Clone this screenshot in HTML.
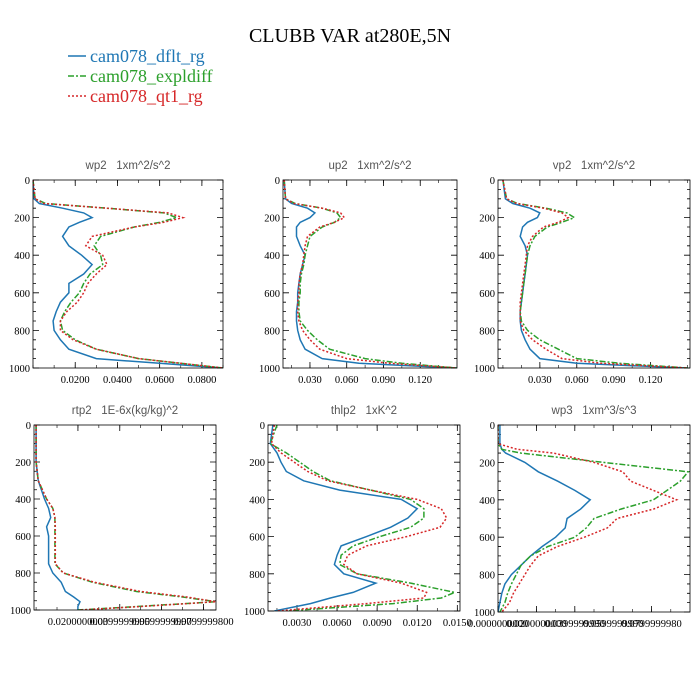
<!DOCTYPE html>
<html><head><meta charset="utf-8"><style>
body{margin:0;background:#fff}
svg{display:block}
</style></head><body>
<svg id="c" width="700" height="700" xmlns="http://www.w3.org/2000/svg">
<text x="350" y="42" text-anchor="middle" font-family="Liberation Serif, serif" font-size="20" fill="#000">CLUBB VAR at280E,5N</text>
<g font-family="Liberation Serif, serif" font-size="18">
<line x1="68" y1="56" x2="86" y2="56" stroke="#1f77b4" stroke-width="1.5"/>
<text x="90" y="62" fill="#1f77b4">cam078_dflt_rg</text>
<line x1="68" y1="76" x2="86" y2="76" stroke="#2ca02c" stroke-width="1.5" stroke-dasharray="6,2,2,2"/>
<text x="90" y="82" fill="#2ca02c">cam078_expldiff</text>
<line x1="68" y1="96" x2="86" y2="96" stroke="#d62728" stroke-width="1.5" stroke-dasharray="2,2"/>
<text x="90" y="102" fill="#d62728">cam078_qt1_rg</text>
</g>
</svg>
<script>
// ---- data ----
const wp2Levels=[0,100,125,150,175,200,225,250,300,350,400,450,500,550,600,650,700,750,800,850,900,950,975,1000];
const wp2Dflt=[0,0.0005,0.003,0.014,0.024,0.028,0.022,0.017,0.014,0.017,0.023,0.028,0.024,0.017,0.017,0.013,0.011,0.0095,0.010,0.013,0.017,0.030,0.060,0.090];
const wp2Expl=[0,0.001,0.006,0.035,0.062,0.068,0.060,0.048,0.032,0.029,0.032,0.033,0.027,0.024,0.022,0.018,0.015,0.013,0.014,0.020,0.030,0.050,0.070,0.090];
const wp2Qt1=[0,0.001,0.005,0.035,0.064,0.071,0.062,0.048,0.028,0.025,0.033,0.035,0.030,0.026,0.024,0.021,0.016,0.013,0.013,0.019,0.030,0.050,0.070,0.090];
const wp2Ticks=["0.0200","0.0400","0.0600","0.0800"];
const wp2TickVals=[0.02,0.04,0.06,0.08];

const up2Levels=wp2Levels;
const up2Dflt=[0.009,0.010,0.015,0.028,0.034,0.030,0.022,0.019,0.019,0.022,0.026,0.024,0.022,0.021,0.020,0.020,0.019,0.019,0.020,0.022,0.026,0.040,0.070,0.150];
const up2Expl=[0.009,0.010,0.018,0.040,0.052,0.055,0.050,0.040,0.030,0.028,0.026,0.025,0.023,0.022,0.022,0.021,0.021,0.022,0.028,0.036,0.046,0.075,0.105,0.150];
const up2Qt1=[0.009,0.010,0.017,0.040,0.055,0.058,0.050,0.038,0.028,0.026,0.025,0.024,0.022,0.021,0.021,0.020,0.020,0.021,0.024,0.030,0.038,0.060,0.095,0.150];
const up2Ticks=["0.030","0.060","0.090","0.120"];
const up2TickVals=[0.03,0.06,0.09,0.12];

const vp2Levels=wp2Levels;
const vp2Dflt=[0,0.002,0.008,0.022,0.030,0.028,0.020,0.016,0.014,0.018,0.020,0.019,0.018,0.017,0.016,0.015,0.014,0.014,0.015,0.018,0.022,0.030,0.060,0.150];
const vp2Expl=[0,0.003,0.012,0.035,0.052,0.058,0.048,0.036,0.026,0.022,0.020,0.019,0.018,0.017,0.016,0.015,0.014,0.015,0.020,0.030,0.045,0.060,0.095,0.150];
const vp2Qt1=[0,0.003,0.011,0.033,0.048,0.053,0.045,0.033,0.024,0.020,0.019,0.018,0.017,0.016,0.015,0.014,0.014,0.014,0.017,0.024,0.035,0.048,0.080,0.150];
const vp2Ticks=up2Ticks;
const vp2TickVals=up2TickVals;

const rtp2Levels=[0,200,300,400,450,500,550,600,650,700,750,800,850,900,930,955,980,1000];
const rtp2Dflt=[0,0,0.001,0.004,0.006,0.007,0.005,0.006,0.006,0.006,0.006,0.008,0.012,0.014,0.018,0.021,0.020,0.020];
const rtp2Expl=[0,0,0.001,0.005,0.008,0.009,0.009,0.009,0.009,0.009,0.009,0.013,0.027,0.048,0.070,0.086,0.050,0.020];
const rtp2Qt1=[0,0,0.001,0.005,0.008,0.009,0.0092,0.0092,0.0092,0.0092,0.0092,0.013,0.028,0.050,0.072,0.086,0.052,0.021];
const rtp2Ticks=["0.0200000000","0.0399999990","0.0599999990","0.0799999800"];
const rtp2TickVals=[0.02,0.04,0.06,0.08];

const thlp2Levels=[0,100,150,200,250,300,350,400,450,500,550,600,650,700,750,800,850,900,930,960,1000];
const thlp2Dflt=[0.0012,0.0010,0.0015,0.0018,0.0022,0.0035,0.0062,0.0108,0.0120,0.0113,0.0100,0.0082,0.0063,0.0060,0.0058,0.0065,0.0089,0.0072,0.0055,0.0040,0.0013];
const thlp2Expl=[0.0015,0.0010,0.0022,0.0032,0.0042,0.0055,0.0085,0.0115,0.0125,0.0125,0.0115,0.0092,0.0072,0.0063,0.0062,0.0075,0.0115,0.0148,0.0138,0.0102,0.0022];
const thlp2Qt1=[0.0013,0.0011,0.0018,0.0028,0.0038,0.0053,0.0085,0.0120,0.0138,0.0142,0.0137,0.0112,0.0082,0.0068,0.0065,0.0075,0.0108,0.0127,0.0125,0.0082,0.0015];
const thlp2Ticks=["0.0030","0.0060","0.0090","0.0120","0.0150"];
const thlp2TickVals=[0.003,0.006,0.009,0.012,0.015];

const wp3Levels=[0,100,130,150,200,250,300,350,400,450,500,550,600,650,700,750,800,850,900,950,1000];
const wp3Dflt=[0.001,0.001,0.002,0.004,0.014,0.021,0.031,0.040,0.048,0.043,0.036,0.035,0.030,0.023,0.017,0.012,0.007,0.0036,0.002,0.001,0];
const wp3Expl=[0,0,0.002,0.012,0.055,0.099,0.095,0.088,0.081,0.064,0.050,0.046,0.040,0.026,0.017,0.012,0.0095,0.007,0.005,0.0036,0.001];
const wp3Qt1=[0,0,0.010,0.029,0.050,0.065,0.069,0.081,0.093,0.081,0.062,0.057,0.045,0.031,0.021,0.017,0.014,0.011,0.008,0.006,0.002];
const wp3Ticks=["0.0000000000","0.0200000000","0.0399999990","0.0599999990","0.0799999980"];
const wp3TickVals=[0,0.02,0.04,0.06,0.08];

const yTicks=[0,200,400,600,800,1000];

const NS="http://www.w3.org/2000/svg";
const svg=document.getElementById('c');
function mk(tag,attrs,parent){const e=document.createElementNS(NS,tag);for(const k in attrs)e.setAttribute(k,attrs[k]);(parent||svg).appendChild(e);return e;}

const panels=[
 {key:'wp2',title:'wp2   1xm^2/s^2',x0:33,x1:223,y0:180,y1:368,xmin:0,xmax:0.09,lev:wp2Levels,s:[wp2Dflt,wp2Expl,wp2Qt1],tl:wp2Ticks,tv:wp2TickVals},
 {key:'up2',title:'up2   1xm^2/s^2',x0:283,x1:457,y0:180,y1:368,xmin:0.008,xmax:0.15,lev:up2Levels,s:[up2Dflt,up2Expl,up2Qt1],tl:up2Ticks,tv:up2TickVals},
 {key:'vp2',title:'vp2   1xm^2/s^2',x0:498,x1:690,y0:180,y1:368,xmin:-0.004,xmax:0.152,lev:vp2Levels,s:[vp2Dflt,vp2Expl,vp2Qt1],tl:vp2Ticks,tv:vp2TickVals},
 {key:'rtp2',title:'rtp2   1E-6x(kg/kg)^2',x0:34,x1:216,y0:425,y1:610,xmin:-0.001,xmax:0.086,lev:rtp2Levels,s:[rtp2Dflt,rtp2Expl,rtp2Qt1],tl:rtp2Ticks,tv:rtp2TickVals},
 {key:'thlp2',title:'thlp2   1xK^2',x0:268,x1:460,y0:425,y1:611,xmin:0.00083,xmax:0.0152,lev:thlp2Levels,s:[thlp2Dflt,thlp2Expl,thlp2Qt1],tl:thlp2Ticks,tv:thlp2TickVals},
 {key:'wp3',title:'wp3   1xm^3/s^3',x0:498,x1:690,y0:425,y1:612,xmin:0,xmax:0.1,lev:wp3Levels,s:[wp3Dflt,wp3Expl,wp3Qt1],tl:wp3Ticks,tv:wp3TickVals}
];
const colors=['#1f77b4','#2ca02c','#d62728'];
const dashes=['none','6,2,2,2','2,2'];
const sNames=['dflt','expldiff','qt1'];

panels.forEach(p=>{
 const g=mk('g',{});
 
 
 const xs=v=>p.x0+(v-p.xmin)/(p.xmax-p.xmin)*(p.x1-p.x0);
 const ys=v=>p.y0+v/1000*(p.y1-p.y0);
 const t=mk('text',{x:(p.x0+p.x1)/2,y:p.y0-11,'text-anchor':'middle','font-family':'Liberation Sans, sans-serif','font-size':'11.5',fill:'#555',style:'white-space:pre'},g);
 t.textContent=p.title;
 
 
 const cp=mk('clipPath',{id:'cl-'+p.key},g);
 mk('rect',{x:p.x0,y:p.y0,width:p.x1-p.x0,height:p.y1-p.y0},cp);
 for(let v=0;v<=1000;v+=50){
  const major=v%200===0;const L=major?6:3;const y=ys(v);
  const a=mk('path',{d:`M${p.x0},${y}h${L}M${p.x1},${y}h${-L}`,stroke:'#000','stroke-width':0.8},g);
  
  
 }
 yTicks.forEach(v=>{
  const tx=mk('text',{x:p.x0-3,y:ys(v)+4,'text-anchor':'end','font-family':'Liberation Serif, serif','font-size':'10.5',fill:'#000'},g);
  tx.textContent=v;
  
  
 });
 p.tv.forEach((v,i)=>{
  const x=xs(v);
  const a=mk('path',{d:`M${x},${p.y1}v-6M${x},${p.y0}v6`,stroke:'#000','stroke-width':0.8},g);
  
  
  const tx=mk('text',{x:x,y:p.y1+15,'text-anchor':'middle','font-family':'Liberation Serif, serif','font-size':'10.5',fill:'#000'},g);
  tx.textContent=p.tl[i];
  
  
 });
 const step=p.tv.length>1?(p.tv[1]-p.tv[0])/2:0.01;
 for(let v=p.tv[0]-step*20;v<=p.xmax;v+=step){
  if(v<p.xmin)continue;const x=xs(v);
  const a=mk('path',{d:`M${x},${p.y1}v-3M${x},${p.y0}v3`,stroke:'#000','stroke-width':0.6},g);
  
  
 }
 p.s.forEach((arr,si)=>{
  const d=arr.map((v,i)=>(i?'L':'M')+xs(v).toFixed(1)+','+ys(p.lev[i]).toFixed(1)).join('');
  const l=mk('path',{d:d,fill:'none',stroke:colors[si],'stroke-width':1.5,'stroke-dasharray':dashes[si],'clip-path':`url(#cl-${p.key})`},g);
  
  
 });
 const r=mk('rect',{x:p.x0,y:p.y0,width:p.x1-p.x0,height:p.y1-p.y0,fill:'none',stroke:'#000','stroke-width':0.8},g);
 
 
});
</script>
</body></html>
